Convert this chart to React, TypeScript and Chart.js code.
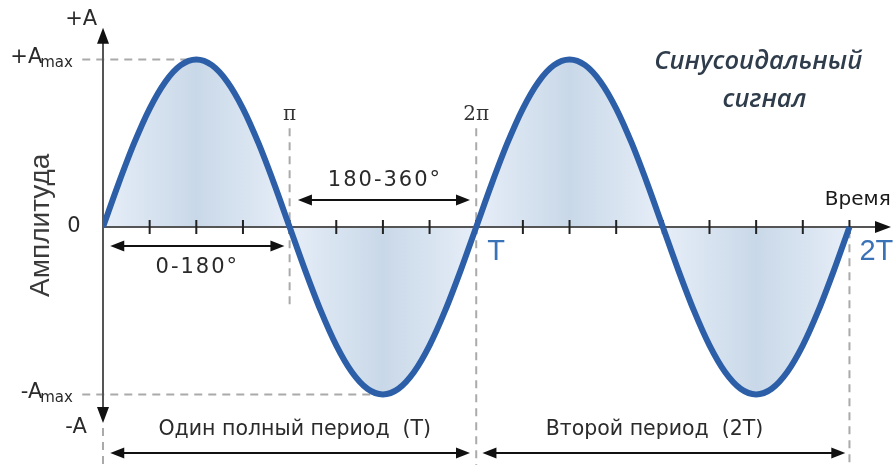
import React, { useEffect, useRef } from "react";
import { Chart, registerables } from "chart.js";

Chart.register(...registerables);

// Phase angle (degrees) of every sample along two full periods
const angles: number[] = [
  0, 15, 30, 45, 60, 75, 90, 105, 120, 135, 150, 165, 180,
  195, 210, 225, 240, 255, 270, 285, 300, 315, 330, 345, 360,
  375, 390, 405, 420, 435, 450, 465, 480, 495, 510, 525, 540,
  555, 570, 585, 600, 615, 630, 645, 660, 675, 690, 705, 720,
];

// Normalised amplitude at each sample (1 = +Amax)
const amplitude: number[] = [
  0, 0.259, 0.5, 0.707, 0.866, 0.966, 1, 0.966, 0.866, 0.707, 0.5, 0.259, 0,
  -0.259, -0.5, -0.707, -0.866, -0.966, -1, -0.966, -0.866, -0.707, -0.5, -0.259, 0,
  0.259, 0.5, 0.707, 0.866, 0.966, 1, 0.966, 0.866, 0.707, 0.5, 0.259, 0,
  -0.259, -0.5, -0.707, -0.866, -0.966, -1, -0.966, -0.866, -0.707, -0.5, -0.259, 0,
];

// Tick marks on the time axis (degrees)
const tickAngles: number[] = [45, 90, 135, 180, 225, 270, 315, 360, 405, 450, 495, 540, 585, 630, 675, 720];

// Half-period markers
const halfPeriodLabels: string[] = ["π", "2π"];
const halfPeriodAngles: number[] = [180, 360];

// Period end labels
const periodLabels: string[] = ["T", "2T"];
const periodAngles: number[] = [360, 720];

// Span labels
const spanLabels: string[] = ["0-180°", "180-360°"];
const periodSpanLabels: string[] = ["Один полный период", "Второй период"];
const periodSpanTags: string[] = ["(T)", "(2T)"];

const titleLines: string[] = ["Синусоидальный", "сигнал"];
const yAxisTitle = "Амплитуда";
const xAxisTitle = "Время";

const X_MIN = 0;
const X_MAX = 762;
const Y_MIN = -1.421;
const Y_MAX = 1.355;

const SANS = '"DejaVu Sans", sans-serif';

function arrowHead(c: CanvasRenderingContext2D, x: number, y: number, dir: "l" | "r" | "u" | "d", len = 14, half = 5.5) {
  c.beginPath();
  if (dir === "r") { c.moveTo(x, y); c.lineTo(x - len, y - half); c.lineTo(x - len, y + half); }
  if (dir === "l") { c.moveTo(x, y); c.lineTo(x + len, y - half); c.lineTo(x + len, y + half); }
  if (dir === "u") { c.moveTo(x, y); c.lineTo(x - half, y + len); c.lineTo(x + half, y + len); }
  if (dir === "d") { c.moveTo(x, y); c.lineTo(x - half, y - len); c.lineTo(x + half, y - len); }
  c.closePath();
  c.fill();
}

function doubleArrow(c: CanvasRenderingContext2D, x1: number, x2: number, y: number) {
  c.save();
  c.strokeStyle = "#111";
  c.fillStyle = "#111";
  c.lineWidth = 2;
  c.beginPath();
  c.moveTo(x1 + 6, y);
  c.lineTo(x2 - 6, y);
  c.stroke();
  arrowHead(c, x1, y, "l");
  arrowHead(c, x2, y, "r");
  c.restore();
}

function dashed(c: CanvasRenderingContext2D, x1: number, y1: number, x2: number, y2: number) {
  c.save();
  c.strokeStyle = "#aaaaaa";
  c.lineWidth = 2;
  c.setLineDash([8, 6]);
  c.beginPath();
  c.moveTo(x1, y1);
  c.lineTo(x2, y2);
  c.stroke();
  c.restore();
}

function subLabel(c: CanvasRenderingContext2D, main: string, sub: string, right: number, y: number) {
  c.save();
  c.textBaseline = "middle";
  c.textAlign = "left";
  c.font = `21px ${SANS}`;
  const wMain = c.measureText(main).width;
  c.font = `15px ${SANS}`;
  const wSub = c.measureText(sub).width;
  const x0 = right - wMain - wSub + 2;
  c.fillStyle = "#2a2a2a";
  c.font = `21px ${SANS}`;
  c.fillText(main, x0, y);
  c.font = `15px ${SANS}`;
  c.fillText(sub, x0 + wMain - 2, y + 5);
  c.restore();
}

const sinePlugin = {
  id: "sineDecor",
  afterDatasetDraw(chart: any, args: any) {
    if (args.index !== 1) return;
    const c: CanvasRenderingContext2D = chart.ctx;
    const px = (d: number) => chart.scales.x.getPixelForValue(d);
    const py = (v: number) => chart.scales.y.getPixelForValue(v);

    // guide lines
    dashed(c, px(-20), py(1), px(90), py(1));
    dashed(c, px(-20), py(-1), px(270), py(-1));
    dashed(c, px(halfPeriodAngles[0]), py(0.59), px(halfPeriodAngles[0]), py(-0.47));
    dashed(c, px(halfPeriodAngles[1]), py(0.59), px(halfPeriodAngles[1]), py(Y_MIN));
    dashed(c, px(periodAngles[1]), py(-0.02), px(periodAngles[1]), py(Y_MIN));
    dashed(c, px(0), py(-1.2), px(0), py(Y_MIN));

    // axes
    c.save();
    c.strokeStyle = "#555";
    c.fillStyle = "#111";
    c.lineWidth = 2;
    c.beginPath();
    c.moveTo(px(0), py(1.12));
    c.lineTo(px(0), py(-1.12));
    c.moveTo(px(0), py(0));
    c.lineTo(px(X_MAX) - 10, py(0));
    c.stroke();
    arrowHead(c, px(0), py(1.19), "u", 16, 6);
    arrowHead(c, px(0), py(-1.17), "d", 16, 6);
    arrowHead(c, px(X_MAX) - 2, py(0), "r", 16, 6);

    // ticks
    c.strokeStyle = "#222";
    c.lineWidth = 2;
    c.beginPath();
    tickAngles.forEach((a) => {
      c.moveTo(px(a), py(0) - 7);
      c.lineTo(px(a), py(0) + 7);
    });
    c.stroke();
    c.restore();
  },
  afterDatasetsDraw(chart: any) {
    const c: CanvasRenderingContext2D = chart.ctx;
    const px = (d: number) => chart.scales.x.getPixelForValue(d);
    const py = (v: number) => chart.scales.y.getPixelForValue(v);
    c.save();
    c.textBaseline = "middle";
    c.textAlign = "center";
    c.fillStyle = "#2a2a2a";

    // y axis labels
    c.font = `21px ${SANS}`;
    c.fillText("+A", px(-21), py(1.24));
    c.fillText("0", px(-28), py(0));
    c.fillText("-A", px(-26), py(-1.2));
    subLabel(c, "+A", "max", px(-29), py(1.01));
    subLabel(c, "-A", "max", px(-29), py(-0.99));

    // axis titles
    c.save();
    c.translate(px(-60), py(0.01));
    c.rotate(-Math.PI / 2);
    c.font = `28px "Liberation Sans", sans-serif`;
    c.fillStyle = "#3a3a3a";
    c.fillText(yAxisTitle, 0, 0);
    c.restore();
    c.font = `20px ${SANS}`;
    c.fillStyle = "#1a1a1a";
    c.fillText(xAxisTitle, px(728), py(0.16));

    // half-period markers
    c.font = `20px "DejaVu Serif", serif`;
    c.fillStyle = "#333";
    halfPeriodLabels.forEach((t, i) => c.fillText(t, px(halfPeriodAngles[i]), py(0.67)));

    // period ends
    c.font = `29px "Liberation Sans", sans-serif`;
    c.fillStyle = "#3a72b8";
    c.textAlign = "left";
    c.fillText(periodLabels[0], px(periodAngles[0]) + 11, py(-0.15));
    c.fillText(periodLabels[1], px(periodAngles[1]) + 10, py(-0.15));
    c.textAlign = "center";

    // span arrows
    c.fillStyle = "#2a2a2a";
    doubleArrow(c, px(7), px(175), py(-0.113));
    doubleArrow(c, px(188), px(354), py(0.161));
    c.font = `21px ${SANS}`;
    (c as any).letterSpacing = "2px";
    c.fillText(spanLabels[0], px(90) + 1, py(-0.245));
    c.fillText(spanLabels[1], px(271) + 1, py(0.275));
    (c as any).letterSpacing = "0px";

    // period arrows
    doubleArrow(c, px(7), px(354), py(-1.349));
    doubleArrow(c, px(366), px(716), py(-1.349));
    c.font = `20.5px ${SANS}`;
    const periodCenters = [185, 532];
    periodSpanLabels.forEach((t, i) => {
      const full = t + "  " + periodSpanTags[i];
      c.fillText(full, px(periodCenters[i]), py(-1.212));
    });

    // title
    c.font = `italic 600 25.5px "Open Sans", sans-serif`;
    c.fillStyle = "#2f3c4b";
    c.fillText(titleLines[0], px(632), py(0.985));
    c.fillText(titleLines[1], px(638), py(0.758));
    c.restore();
  },
};

export default function App() {
  const ref = useRef<HTMLCanvasElement>(null);
  useEffect(() => {
    if (!ref.current) return;
    const points = angles.map((a, i) => ({ x: a, y: amplitude[i] }));
    const chart = new Chart(ref.current, {
      type: "line",
      data: {
        datasets: [
          {
            data: points,
            borderColor: "#2c5fa8",
            borderWidth: 6,
            pointRadius: 0,
            fill: false,
            cubicInterpolationMode: "monotone",
            order: 0,
          },
          {
            data: points,
            borderWidth: 0,
            borderColor: "rgba(0,0,0,0)",
            pointRadius: 0,
            cubicInterpolationMode: "monotone",
            fill: "origin",
            order: 1,
            backgroundColor: (ctx: any) => {
              const ch = ctx.chart;
              if (!ch.chartArea) return "#d6e3f0";
              const x0 = ch.scales.x.getPixelForValue(0);
              const x1 = ch.scales.x.getPixelForValue(720);
              const g = ch.ctx.createLinearGradient(x0, 0, x1, 0);
              for (let k = 0; k <= 8; k++) {
                g.addColorStop(k / 8, k % 2 === 0 ? "#e6eef8" : "#c9d8e8");
              }
              return g;
            },
          },
        ],
      },
      options: {
        responsive: false,
        animation: false,
        devicePixelRatio: 1,
        layout: { padding: { left: 103, right: 3, top: 0, bottom: 0 } },
        plugins: { legend: { display: false }, tooltip: { enabled: false } },
        scales: {
          x: { type: "linear", min: X_MIN, max: X_MAX, display: false },
          y: { type: "linear", min: Y_MIN, max: Y_MAX, display: false },
        },
      },
      plugins: [sinePlugin],
    });
    return () => chart.destroy();
  }, []);
  return (
    <div style={{ position: "fixed", left: 0, top: 0, width: 896, height: 465, background: "#ffffff" }}>
      <canvas ref={ref} width={896} height={465} />
    </div>
  );
}
